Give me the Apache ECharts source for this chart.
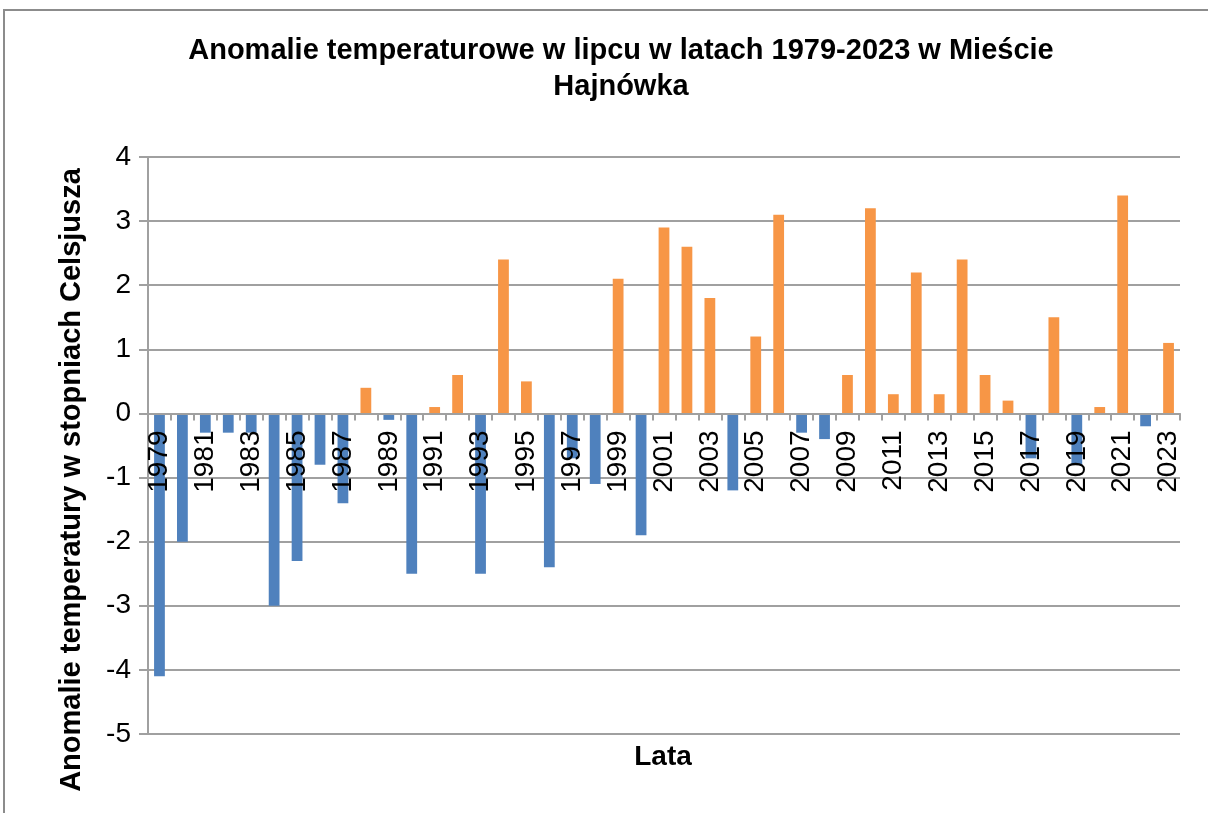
<!DOCTYPE html>
<html>
<head>
<meta charset="utf-8">
<script src="https://cdn.jsdelivr.net/npm/echarts@6/dist/echarts.min.js"></script>
<style>
html,body{margin:0;padding:0;background:#fff;}
#chart{width:1208px;height:813px;}
</style>
</head>
<body>
<div id="chart"></div>
<script>
const years = ['1979','1980','1981','1982','1983','1984','1985','1986','1987','1988','1989','1990','1991','1992','1993','1994','1995','1996','1997','1998','1999','2000','2001','2002','2003','2004','2005','2006','2007','2008','2009','2010','2011','2012','2013','2014','2015','2016','2017','2018','2019','2020','2021','2022','2023'];
const anomalies = [-4.1,-2.0,-0.3,-0.3,-0.3,-3.0,-2.3,-0.8,-1.4,0.4,-0.1,-2.5,0.1,0.6,-2.5,2.4,0.5,-2.4,-0.7,-1.1,2.1,-1.9,2.9,2.6,1.8,-1.2,1.2,3.1,-0.3,-0.4,0.6,3.2,0.3,2.2,0.3,2.4,0.6,0.2,-0.7,1.5,-0.8,0.1,3.4,-0.2,1.1];
const yTicks = [-5,-4,-3,-2,-1,0,1,2,3,4];
const titleText = 'Anomalie temperaturowe w lipcu w latach 1979-2023 w Mieście\nHajnówka';
const yName = 'Anomalie temperatury w stopniach Celsjusza';
const xName = 'Lata';

const FONT = '"Liberation Sans", Arial, sans-serif';
const GRID_TOP = 157, GRID_BOTTOM_Y = 734;
const yMin = yTicks[0], yMax = yTicks[yTicks.length - 1];
const zeroOffset = -(GRID_BOTTOM_Y - GRID_TOP) * (0 - yMin) / (yMax - yMin);

const chart = echarts.init(document.getElementById('chart'));
chart.setOption({
  backgroundColor: '#fff',
  animation: false,
  title: {
    text: titleText,
    left: 616,
    top: 28,
    textAlign: 'center',
    textStyle: {fontFamily: FONT, fontSize: 29, fontWeight: 'bold', color: '#000', lineHeight: 36}
  },
  grid: {left: 148, right: 28, top: GRID_TOP, bottom: 813 - GRID_BOTTOM_Y, containLabel: false},
  visualMap: {
    show: false,
    type: 'piecewise',
    seriesIndex: 0,
    pieces: [{lt: 0, color: '#4F81BD'}, {gte: 0, color: '#F79646'}]
  },
  xAxis: {
    type: 'category',
    data: years,
    boundaryGap: true,
    offset: zeroOffset,
    axisLine: {onZero: false, lineStyle: {color: '#a0a0a0', width: 2}},
    axisTick: {show: true, interval: 0, alignWithLabel: false, length: 7, lineStyle: {color: '#a0a0a0', width: 2}},
    axisLabel: {interval: 1, rotate: 90, margin: 17, fontFamily: FONT, fontSize: 28, color: '#000'},
    splitLine: {show: false},
    z: 10
  },
  yAxis: {
    type: 'value',
    min: yMin,
    max: yMax,
    interval: 1,
    axisLine: {show: true, lineStyle: {color: '#a0a0a0', width: 2}},
    axisTick: {show: true, length: 9, lineStyle: {color: '#a0a0a0', width: 2}},
    axisLabel: {margin: 17, fontFamily: FONT, fontSize: 28, color: '#000'},
    splitLine: {show: true, lineStyle: {color: '#a0a0a0', width: 2}},
    z: 0
  },
  graphic: [
    {type: 'rect', shape: {x: 4, y: 10, width: 1300, height: 900}, style: {fill: 'none', stroke: '#8c8c8c', lineWidth: 2}, silent: true, z: -1},
    {type: 'text', x: 72, y: 480, rotation: Math.PI / 2, style: {text: yName, font: 'bold 29px ' + FONT, fill: '#000', textAlign: 'center', textVerticalAlign: 'middle'}},
    {type: 'text', x: 663, y: 757, style: {text: xName, font: 'bold 28px ' + FONT, fill: '#000', textAlign: 'center', textVerticalAlign: 'middle'}}
  ],
  series: [{
    type: 'bar',
    data: anomalies,
    barWidth: '47%',
    z: 2
  }]
});
</script>
</body>
</html>
